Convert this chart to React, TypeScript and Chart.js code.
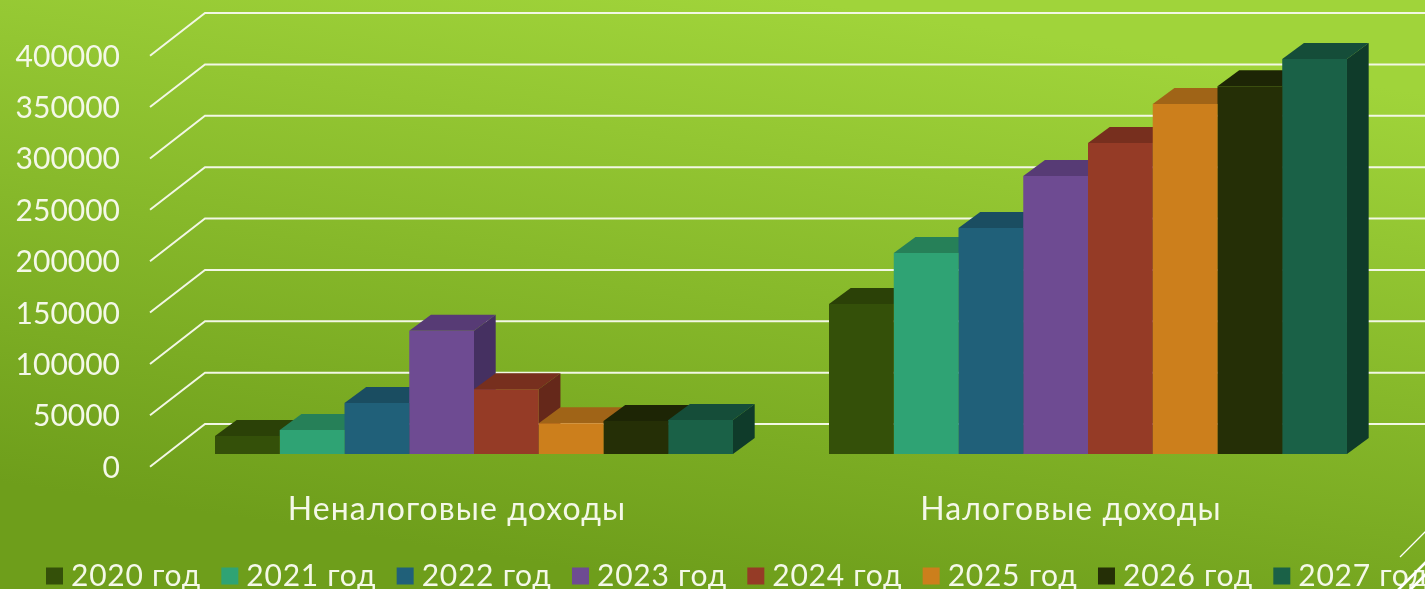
import React, { useEffect, useRef } from "react";
import { Chart, registerables } from "chart.js";

Chart.register(...registerables);

const categories = ["Неналоговые доходы", "Налоговые доходы"];
const years = ["2020 год", "2021 год", "2022 год", "2023 год", "2024 год", "2025 год", "2026 год", "2027 год"];
const v2020 = [17500, 146000];
const v2021 = [23400, 195600];
const v2022 = [49600, 220000];
const v2023 = [120000, 270500];
const v2024 = [63000, 302700];
const v2025 = [30000, 340600];
const v2026 = [32000, 358000];
const v2027 = [33000, 384400];
const seriesValues = [v2020, v2021, v2022, v2023, v2024, v2025, v2026, v2027];
const frontColors = ["#345009", "#2FA374", "#206079", "#6E4B92", "#953B26", "#CC7F1C", "#252F06", "#1A6147"];
const topColors = ["#2B4107", "#268058", "#1A4D61", "#573B75", "#772F1E", "#A06417", "#1D2505", "#154D39"];
const sideColors = ["#22340A", "#1C6045", "#143B4A", "#453061", "#65281A", "#7E4F12", "#161C04", "#0F3B2A"];

const FONT = "Lato, 'Noto Sans', sans-serif";
const BAR_DX = 21.7;
const BAR_DY = 16;

function spaced(ctx: any, box: any, method: string, px: string) {
  if (box["__sp" + method]) return;
  box["__sp" + method] = true;
  const orig = box[method];
  box[method] = function (...args: any[]) {
    ctx.letterSpacing = px;
    orig.apply(this, args);
    ctx.letterSpacing = "0px";
  };
}

const backdrop = {
  id: "backdrop",
  beforeDraw(chart: any) {
    const { ctx, width, height } = chart;
    // y labels reach left of the legend inset; keep them from being clipped
    chart.scales.y.left = 0;
    spaced(ctx, chart.scales.x, "drawLabels", "1.1px");
    spaced(ctx, chart.legend, "draw", "0.75px");
    const g = ctx.createLinearGradient(800, 0, 712, 589);
    g.addColorStop(0, "#A0D43A");
    g.addColorStop(1, "#6E9E1B");
    ctx.save();
    ctx.fillStyle = g;
    ctx.fillRect(0, 0, width, height);
    ctx.restore();
  },
  afterDraw(chart: any) {
    const { ctx } = chart;
    ctx.save();
    ctx.strokeStyle = "#ffffff";
    ctx.lineWidth = 1.3;
    ctx.beginPath();
    ctx.moveTo(1400, 557);
    ctx.lineTo(1440, 517);
    ctx.stroke();
    ctx.lineWidth = 2.5;
    for (const a of [1396, 1408]) {
      ctx.beginPath();
      ctx.moveTo(a, 592);
      ctx.lineTo(a + 40, 552);
      ctx.stroke();
    }
    ctx.restore();
  },
};

const walls = {
  id: "walls",
  beforeDatasetsDraw(chart: any) {
    const { ctx, scales, width } = chart;
    const y = scales.y;
    ctx.save();
    ctx.strokeStyle = "#F2F7E4";
    ctx.lineWidth = 2;
    y.ticks.forEach((_: any, i: number) => {
      const py = y.getPixelForTick(i);
      ctx.beginPath();
      ctx.moveTo(150, py + 12.7);
      ctx.lineTo(205, py - 30);
      ctx.lineTo(width, py - 30);
      ctx.stroke();
    });
    chart.data.datasets.forEach((_: any, d: number) => {
      chart.getDatasetMeta(d).data.forEach((bar: any) => {
        const left = bar.x - bar.width / 2;
        const right = bar.x + bar.width / 2;
        ctx.fillStyle = sideColors[d];
        ctx.beginPath();
        ctx.moveTo(right, bar.y);
        ctx.lineTo(right + BAR_DX, bar.y - BAR_DY);
        ctx.lineTo(right + BAR_DX, bar.base - BAR_DY);
        ctx.lineTo(right, bar.base);
        ctx.closePath();
        ctx.fill();
        ctx.fillStyle = topColors[d];
        ctx.beginPath();
        ctx.moveTo(left, bar.y);
        ctx.lineTo(left + BAR_DX, bar.y - BAR_DY);
        ctx.lineTo(right + BAR_DX, bar.y - BAR_DY);
        ctx.lineTo(right, bar.y);
        ctx.closePath();
        ctx.fill();
      });
    });
    ctx.restore();
  },
};

export default function App() {
  const ref = useRef<HTMLCanvasElement>(null);
  useEffect(() => {
    const chart = new Chart(ref.current!, {
      type: "bar",
      data: {
        labels: categories,
        datasets: years.map((label, i) => ({
          label,
          data: seriesValues[i],
          backgroundColor: frontColors[i],
          borderWidth: 0,
          barPercentage: 1,
          categoryPercentage: 0.8436,
        })),
      },
      options: {
        animation: false,
        responsive: false,
        layout: { padding: { left: 25.6, right: 0, top: 43, bottom: 0 } },
        scales: {
          x: {
            grid: { display: false, drawTicks: false },
            border: { display: false },
            ticks: { color: "#F4F8E8", font: { family: FONT, size: 32 }, padding: 36, labelOffset: -17, maxRotation: 0 },
            afterFit(s: any) { s.height = 79.6; },
          },
          y: {
            min: 0,
            max: 400000,
            grid: { display: false, drawTicks: false },
            border: { display: false },
            ticks: {
              stepSize: 50000,
              color: "#F4F8E8",
              font: { family: FONT, size: 30 },
              padding: 47,
              labelOffset: 14,
              callback: (v: any) => String(v),
            },
            afterFit(s: any) {
              s.width = 141.4;
              s.paddingTop = 0;
              s.paddingBottom = 0;
            },
          },
          gutter: {
            position: "right",
            grid: { display: false, drawTicks: false },
            border: { display: false },
            ticks: { display: false },
            afterFit(s: any) {
              s.width = 86;
              s.paddingTop = 0;
              s.paddingBottom = 0;
            },
          },
        },
        plugins: {
          legend: {
            position: "bottom",
            align: "start",
            labels: {
              color: "#F4F8E8",
              font: { family: FONT, size: 30 },
              boxWidth: 3,
              boxHeight: 17,
              usePointStyle: true,
              pointStyle: "rect",
              padding: 27.4,
            },
          },
          tooltip: { enabled: false },
          title: { display: false },
        },
      },
      plugins: [backdrop, walls],
    } as any);
    return () => chart.destroy();
  }, []);
  return (
    <div style={{ position: "absolute", left: 0, top: 0, width: 1425, height: 589, overflow: "hidden", background: "#8DBE2E" }}>
      <canvas ref={ref} width={1481} height={601} style={{ display: "block", width: 1481, height: 601, filter: "blur(0.4px)" }} />
    </div>
  );
}
